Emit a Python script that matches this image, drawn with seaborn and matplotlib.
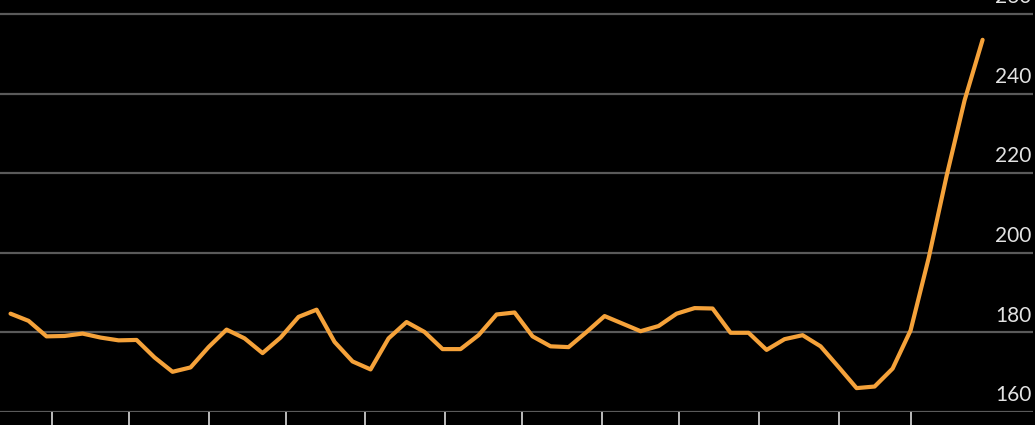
import matplotlib
matplotlib.use("Agg")
import matplotlib.pyplot as plt
import matplotlib.transforms as mtransforms
import seaborn as sns
import pandas as pd

# ---- data ----
start_date = "2021-03-16"
values = [184.7, 182.9, 179.0, 179.1, 179.7, 178.7, 178.0, 178.1, 173.7, 170.1,
          171.2, 176.3, 180.7, 178.5, 174.8, 178.7, 183.9, 185.7, 177.6, 172.7,
          170.7, 178.5, 182.6, 180.1, 175.8, 175.8, 179.3, 184.5, 185.0, 179.0,
          176.5, 176.3, 180.1, 184.1, 182.2, 180.3, 181.6, 184.7, 186.1, 186.0,
          179.9, 179.9, 175.6, 178.3, 179.3, 176.5, 171.3, 166.0, 166.4, 170.9,
          180.5, 198.6, 219.3, 238.3, 253.5]
y_ticks = [160, 180, 200, 220, 240, 260]
y_tick_labels = ["160", "180", "200", "220", "240", "260"]
month_ticks = pd.date_range("2021-04-01", "2022-03-01", freq="MS")

dates = pd.date_range(start_date, periods=len(values), freq="7D")
df = pd.DataFrame({"date": dates, "value": values})

sns.set_theme(style="dark")
plt.rcParams["font.family"] = ["Lato", "DejaVu Sans"]

W, H = 1035, 425
fig = plt.figure(figsize=(W / 100, H / 100), dpi=100, facecolor="black")
ax = fig.add_axes([0, 13 / H, 1033 / W, 412 / H])
ax.set_facecolor("black")

for v in y_ticks:
    ax.axhline(v, color="#5a5a5a", lw=1.6, zorder=1)

sns.lineplot(data=df, x="date", y="value", ax=ax, color="#F5A23A", lw=3.0,
             solid_capstyle="round", solid_joinstyle="round", zorder=3)

ref = pd.Timestamp("2021-04-01")
ax.set_xlim(ref - pd.Timedelta(days=20.1), ref + pd.Timedelta(days=381.6))
ax.set_ylim(160, 263.5)

ax.set_xticks(month_ticks)
ax.set_xticklabels([""] * len(month_ticks))
ax.tick_params(axis="x", direction="out", length=10, width=1.4, color="#bdbdbd",
               bottom=True, pad=0)
ax.set_yticks([])
ax.set_xlabel("")
ax.set_ylabel("")
for s in ax.spines.values():
    s.set_visible(False)
ax.grid(False)

trans = mtransforms.blended_transform_factory(ax.transAxes, ax.transData)
offset = mtransforms.ScaledTranslation(-1 / 72, 7.7 / 72, fig.dpi_scale_trans)
for v, lab in zip(y_ticks, y_tick_labels):
    ax.text(1.0, v, lab, transform=trans + offset, ha="right", va="baseline",
            color="#e2e2e2", fontsize=15, clip_on=False)

fig.savefig("out.png", dpi=100, facecolor="black")
